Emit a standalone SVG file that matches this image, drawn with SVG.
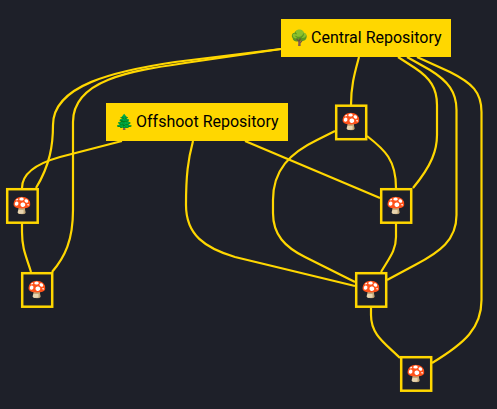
<svg xmlns="http://www.w3.org/2000/svg" width="497" height="409" viewBox="0 0 497 409">
<style>
.e{fill:none;stroke:#ffd700;stroke-width:2.2}
.r{fill:#ffd700;stroke:none}
.m{fill:#1e2029;stroke:#ffd700;stroke-width:2.500}
text{font-family:Roboto,"Noto Color Emoji",sans-serif;font-size:16px;fill:#000}
.g{font-size:15px}
.i{text-anchor:middle}
</style>
<rect width="497" height="409" fill="#1e2029"/>
<g id="connectors">
<path class="e" d="M359 57C355 72 351 85 351 105"/>
<path class="e" d="M281 49L175 62C115 71 53 85 53 125C53 145 50 165 36 188"/>
<path class="e" d="M281 49L185 63C130 71 73 80 73 122L73 210C73 240 65 257 52 272"/>
<path class="e" d="M122 141L60 157C35 164 22 175 22 188"/>
<path class="e" d="M22 223L22 232C22 250 27 258 31 272"/>
<path class="e" d="M193 141C188 160 186 175 186 205C186 235 205 248 235 257L355 286"/>
<path class="e" d="M245 141L380 198"/>
<path class="e" d="M367 136C385 150 396 160 396 188"/>
<path class="e" d="M335 131L317 140C290 153 273 170 273 200L273 213C273 235 285 247 305 257L355 282"/>
<path class="e" d="M398 57L415 68C430 78 437 88 437 105L437 135C437 150 432 165 413 188"/>
<path class="e" d="M407 57L430 70C448 81 456.500 92 456.500 110L456.500 215C456.500 240 440 252 415 265L387 280"/>
<path class="e" d="M417 57L450 72C472 83 481.500 92 481.500 112L481.500 300C481.500 328 465 343 432 363"/>
<path class="e" d="M396 223L396 237C396 250 390 257 381 272"/>
<path class="e" d="M371 307L371 315C371 335 385 343 400 358"/>
</g>
<g id="central"><rect class="r" x="281" y="19" width="170" height="38"/><text x="290" y="43"><tspan class="g">🌳</tspan><tspan x="311">Central Repository</tspan></text></g>
<g id="offshoot"><rect class="r" x="106" y="103" width="182" height="38"/><text x="115" y="127"><tspan class="g">🌲</tspan><tspan x="136">Offshoot Repository</tspan></text></g>
<g id="n1"><rect class="m" x="336.200" y="105.700" width="30" height="33.500"/><text class="i" x="351.200" y="127">🍄</text></g>
<g id="n2"><rect class="m" x="7.200" y="189.200" width="30.500" height="33.500"/><text class="i" x="22.500" y="211">🍄</text></g>
<g id="n3"><rect class="m" x="381.200" y="189.200" width="30" height="33.500"/><text class="i" x="396.200" y="211">🍄</text></g>
<g id="n4"><rect class="m" x="22.200" y="273.200" width="30" height="33.500"/><text class="i" x="37.200" y="295">🍄</text></g>
<g id="n5"><rect class="m" x="356.200" y="273.200" width="30" height="33.500"/><text class="i" x="371.200" y="295">🍄</text></g>
<g id="n6"><rect class="m" x="401.200" y="357.200" width="30" height="33.500"/><text class="i" x="416.200" y="379">🍄</text></g>
</svg>
